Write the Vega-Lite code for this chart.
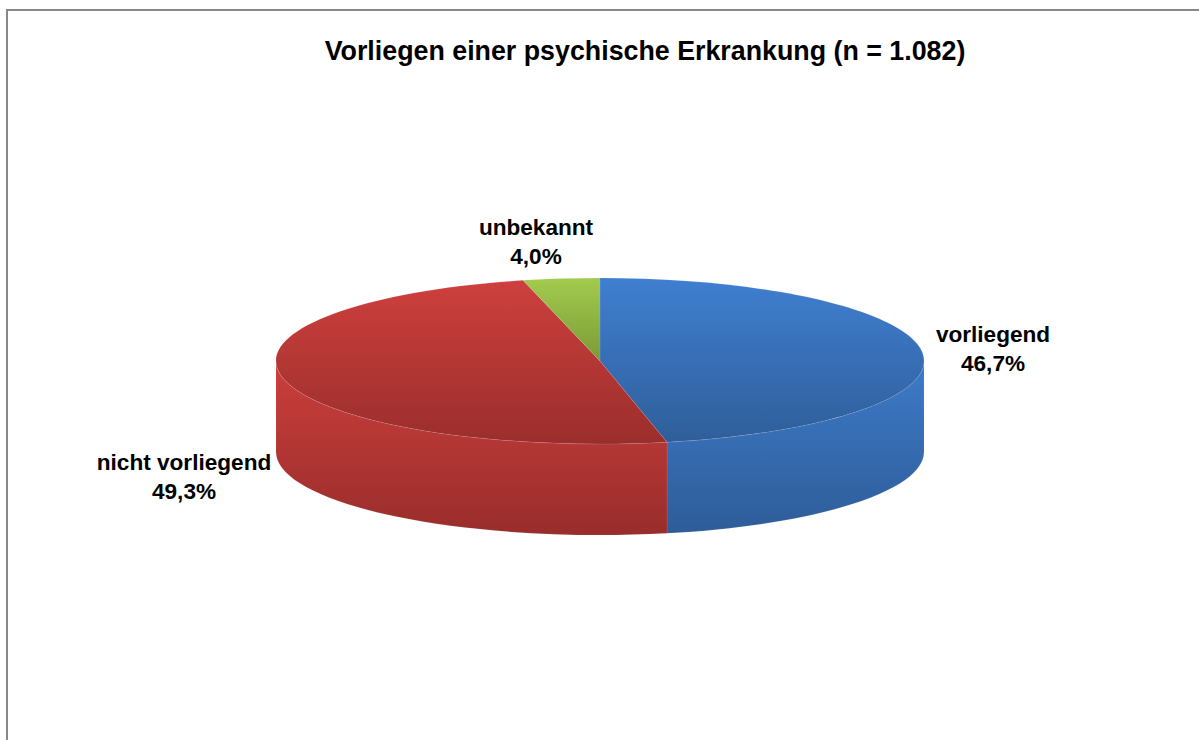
{
"$schema":"https://vega.github.io/schema/vega-lite/v6.json",
"width":1194,"height":732,
"autosize":{"type":"none"},
"padding":{"left":7,"top":10,"right":0,"bottom":0},
"background":"white",
"view":{"stroke":"#888888","strokeWidth":2},
"title":{"text":"Vorliegen einer psychische Erkrankung (n = 1.082)","font":"Liberation Sans","fontSize":26.8,"fontWeight":"bold","color":"#000000","anchor":"middle","dx":41,"dy":81,"baseline":"alphabetic"},
"data":{"values":[
{"Kategorie":"vorliegend","Anteil":46.7,"Teil":"vorliegend Mantel"},
{"Kategorie":"nicht vorliegend","Anteil":49.3,"Teil":"nicht vorliegend Mantel"},
{"Kategorie":"vorliegend","Anteil":46.7,"Teil":"vorliegend Deckel"},
{"Kategorie":"nicht vorliegend","Anteil":49.3,"Teil":"nicht vorliegend Deckel"},
{"Kategorie":"unbekannt","Anteil":4.0,"Teil":"unbekannt Deckel"}
]},
"layer":[
{"transform":[{"filter":"datum.Teil=='vorliegend Mantel'"}],
"mark":{"type":"point","filled":true,"opacity":1,"size":419904,"xOffset":-4,"yOffset":-15,"stroke":"#e8eef5","strokeWidth":0.5,"strokeOpacity":0.2,
"shape":"M1 0L1 .281A1 .2562 0 0 1 .2068 .5317L.2068 .2507A1 .2562 0 0 0 1 0Z",
"color":{"gradient":"linear","x1":0,"y1":0,"x2":0,"y2":1,"stops":[{"offset":0,"color":"#3d7bc9"},{"offset":1,"color":"#2e5c98"}]}},
"encoding":{}},
{"transform":[{"filter":"datum.Teil=='nicht vorliegend Mantel'"}],
"mark":{"type":"point","filled":true,"opacity":1,"size":419904,"xOffset":-4,"yOffset":-15,"stroke":"#e8eef5","strokeWidth":0.5,"strokeOpacity":0.2,
"shape":"M.2068 .2507L.2068 .5317A1 .2562 0 0 1 -1 .281L-1 0A1 .2562 0 0 0 .2068 .2507Z",
"color":{"gradient":"linear","x1":0,"y1":0,"x2":0,"y2":1,"stops":[{"offset":0,"color":"#cc3f3c"},{"offset":1,"color":"#982d2b"}]}},
"encoding":{}},
{"transform":[{"filter":"datum.Teil=='vorliegend Deckel'"}],
"mark":{"type":"point","filled":true,"opacity":1,"size":419904,"xOffset":-4,"yOffset":-15,"stroke":"#e8eef5","strokeWidth":0.5,"strokeOpacity":0.2,
"shape":"M0 0L0 -.2562A1 .2562 0 0 1 1 0A1 .2562 0 0 1 .2068 .25066Z",
"color":{"gradient":"linear","x1":0,"y1":0,"x2":0,"y2":1,"stops":[{"offset":0,"color":"#3f7fd0"},{"offset":1,"color":"#2f5e9a"}]}},
"encoding":{}},
{"transform":[{"filter":"datum.Teil=='nicht vorliegend Deckel'"}],
"mark":{"type":"point","filled":true,"opacity":1,"size":419904,"xOffset":-4,"yOffset":-15,"stroke":"#e8eef5","strokeWidth":0.5,"strokeOpacity":0.2,
"shape":"M0 0L.2068 .25066A1 .2562 0 0 1 -1 0A1 .2562 0 0 1 -.2377 -.24886Z",
"color":{"gradient":"linear","x1":0,"y1":0,"x2":0,"y2":1,"stops":[{"offset":0,"color":"#ce403d"},{"offset":1,"color":"#9a2e2c"}]}},
"encoding":{}},
{"transform":[{"filter":"datum.Teil=='unbekannt Deckel'"}],
"mark":{"type":"point","filled":true,"opacity":1,"size":419904,"xOffset":-4,"yOffset":-15,"stroke":"#e8eef5","strokeWidth":0.5,"strokeOpacity":0.2,
"shape":"M0 0L-.2377 -.24886A1 .2562 0 0 1 0 -.2562Z",
"color":{"gradient":"linear","x1":0,"y1":0,"x2":0,"y2":1,"stops":[{"offset":0,"color":"#a3cb4e"},{"offset":1,"color":"#7a9b36"}]}},
"encoding":{}},
{"transform":[{"filter":"datum.Teil=='vorliegend Deckel'"},{"calculate":"datum.Kategorie+'\\n'+replace(format(datum.Anteil,'.1f'),'.',',')+'%'","as":"Beschriftung"}],
"mark":{"type":"text","font":"Liberation Sans","fontSize":22.6,"fontWeight":"bold","color":"#000000","lineBreak":"\n","lineHeight":29,"align":"center","baseline":"middle","dx":389,"dy":-41},
"encoding":{"text":{"field":"Beschriftung"}}},
{"transform":[{"filter":"datum.Teil=='nicht vorliegend Deckel'"},{"calculate":"datum.Kategorie+'\\n'+replace(format(datum.Anteil,'.1f'),'.',',')+'%'","as":"Beschriftung"}],
"mark":{"type":"text","font":"Liberation Sans","fontSize":22.6,"fontWeight":"bold","color":"#000000","lineBreak":"\n","lineHeight":29,"align":"center","baseline":"middle","dx":-420,"dy":87},
"encoding":{"text":{"field":"Beschriftung"}}},
{"transform":[{"filter":"datum.Teil=='unbekannt Deckel'"},{"calculate":"datum.Kategorie+'\\n'+replace(format(datum.Anteil,'.1f'),'.',',')+'%'","as":"Beschriftung"}],
"mark":{"type":"text","font":"Liberation Sans","fontSize":22.6,"fontWeight":"bold","color":"#000000","lineBreak":"\n","lineHeight":29,"align":"center","baseline":"middle","dx":-68,"dy":-148},
"encoding":{"text":{"field":"Beschriftung"}}}
]
}
